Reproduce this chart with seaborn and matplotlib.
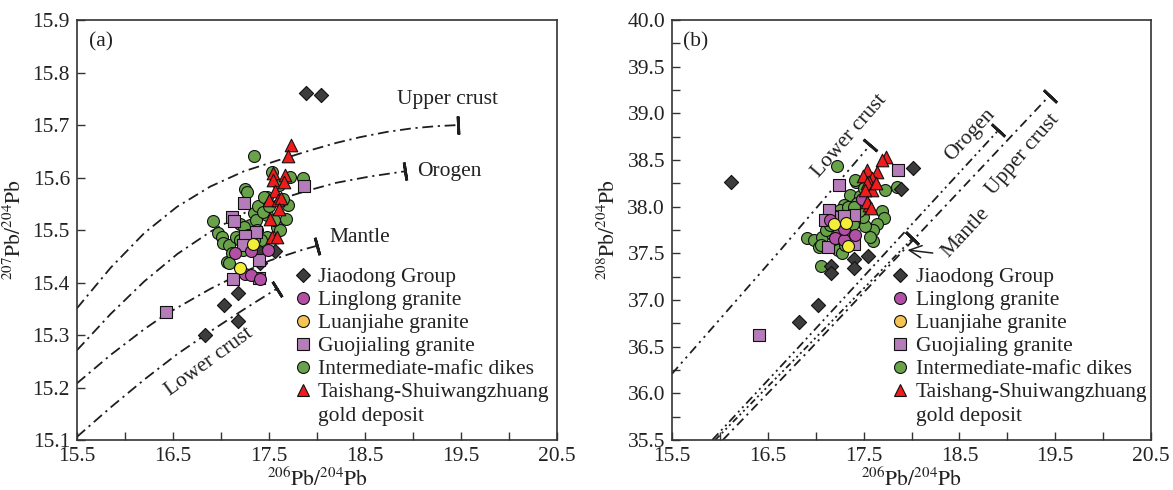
import numpy as np
import pandas as pd
import matplotlib
matplotlib.use("Agg")
import matplotlib.pyplot as plt
from matplotlib.lines import Line2D
import seaborn as sns

# ---------------- sample groups ----------------
groups = ["Jiaodong Group", "Linglong granite", "Luanjiahe granite",
          "Guojialing granite", "Intermediate-mafic dikes",
          "Taishang-Shuiwangzhuang gold deposit"]

# ---------------- (a) 206Pb/204Pb vs 207Pb/204Pb ----------------
jiaodong_a_x = [17.89, 18.04, 16.83, 17.03, 17.18, 17.18, 17.41, 17.41, 17.56]
jiaodong_a_y = [15.762, 15.758, 15.300, 15.357, 15.381, 15.327, 15.437, 15.458, 15.460]

linglong_a_x = [17.15, 17.31, 17.49, 17.25, 17.31, 17.41]
linglong_a_y = [15.457, 15.461, 15.462, 15.417, 15.415, 15.406]

luanjiahe_a_x = [17.33, 17.20]
luanjiahe_a_y = [15.473, 15.428]

guojialing_a_x = [16.43, 17.13, 17.40, 17.40, 17.24, 17.12, 17.14, 17.37, 17.25, 17.23, 17.86]
guojialing_a_y = [15.344, 15.406, 15.408, 15.443, 15.551, 15.524, 15.518, 15.497, 15.488, 15.471, 15.584]

dikes_a_x = [17.34, 17.53, 17.72, 17.85, 17.25, 17.27, 17.48, 17.70, 17.41, 17.34,
             17.48, 17.68, 16.92, 17.20, 17.30, 17.58, 17.62, 16.97, 17.01, 17.02,
             17.08, 17.48, 17.42, 17.34, 17.06, 17.11, 17.23, 17.16, 17.08, 17.39,
             17.45, 17.24, 17.20, 17.31, 17.36, 17.44, 17.55, 17.65, 17.38, 17.28,
             17.50, 17.60]
dikes_a_y = [15.641, 15.611, 15.602, 15.600, 15.579, 15.573, 15.563, 15.548, 15.544, 15.532,
             15.529, 15.522, 15.518, 15.511, 15.510, 15.506, 15.500, 15.494, 15.487, 15.475,
             15.471, 15.487, 15.481, 15.481, 15.440, 15.456, 15.462, 15.487, 15.437, 15.545,
             15.563, 15.506, 15.481, 15.468, 15.520, 15.535, 15.520, 15.560, 15.500, 15.490,
             15.545, 15.585]

taishang_a_x = [17.73, 17.70, 17.545, 17.545, 17.67, 17.66, 17.56, 17.50, 17.59, 17.63,
                17.60, 17.51, 17.535, 17.58]
taishang_a_y = [15.662, 15.642, 15.609, 15.596, 15.605, 15.592, 15.574, 15.557, 15.557, 15.562,
                15.541, 15.521, 15.487, 15.486]

# growth curves (a)
upper_crust_a_x = [15.50, 15.85, 16.20, 16.54, 16.89, 17.24, 17.58, 17.95, 18.20,
                   18.45, 18.73, 19.00, 19.25, 19.47]
upper_crust_a_y = [15.351, 15.428, 15.494, 15.544, 15.583, 15.612, 15.632, 15.653, 15.666,
                   15.677, 15.687, 15.694, 15.698, 15.700]
orogen_a_x = [15.50, 15.85, 16.20, 16.55, 16.90, 17.25, 17.60, 17.90, 18.20, 18.55, 18.92]
orogen_a_y = [15.271, 15.340, 15.402, 15.455, 15.498, 15.533, 15.558, 15.575, 15.590, 15.602, 15.612]
mantle_a_x = [15.50, 15.85, 16.20, 16.43, 16.89, 17.24, 17.51, 17.86, 18.00]
mantle_a_y = [15.208, 15.262, 15.311, 15.340, 15.388, 15.420, 15.442, 15.463, 15.470]
lower_crust_a_x = [15.50, 15.85, 16.20, 16.54, 16.89, 17.24, 17.58]
lower_crust_a_y = [15.106, 15.162, 15.215, 15.263, 15.307, 15.349, 15.388]

# ---------------- (b) 206Pb/204Pb vs 208Pb/204Pb ----------------
jiaodong_b_x = [16.12, 18.02, 17.89, 17.16, 17.16, 17.40, 17.40, 17.55, 17.02, 16.83]
jiaodong_b_y = [38.27, 38.42, 38.19, 37.37, 37.29, 37.44, 37.34, 37.47, 36.95, 36.76]

linglong_b_x = [17.15, 17.24, 17.20, 17.29, 17.41, 17.30, 17.48]
linglong_b_y = [37.86, 37.75, 37.67, 37.64, 37.70, 37.76, 38.08]

luanjiahe_b_x = [17.19, 17.32, 17.34]
luanjiahe_b_y = [37.81, 37.83, 37.58]

guojialing_b_x = [16.41, 17.24, 17.86, 17.14, 17.10, 17.26, 17.40, 17.13, 17.40, 17.29]
guojialing_b_y = [36.63, 38.23, 38.39, 37.96, 37.86, 37.89, 37.91, 37.57, 37.60, 37.90]

dikes_b_x = [17.22, 17.72, 17.85, 17.42, 17.36, 17.46, 17.69, 17.71, 17.64, 17.60,
             17.60, 17.51, 17.49, 17.29, 17.25, 16.91, 16.98, 17.07, 17.03, 17.06,
             17.23, 17.27, 17.17, 17.34, 17.39, 17.11, 17.32, 17.41, 17.43, 17.34,
             17.57, 17.05, 17.31, 17.15, 17.20, 17.30, 17.45, 17.38, 17.40, 17.50]
dikes_b_y = [38.44, 38.18, 38.21, 38.27, 38.13, 38.11, 37.95, 37.88, 37.81, 37.75,
             37.63, 37.79, 37.89, 38.02, 37.96, 37.66, 37.64, 37.68, 37.57, 37.36,
             37.54, 37.50, 37.71, 37.71, 37.82, 37.75, 37.89, 38.29, 38.04, 38.00,
             37.68, 37.59, 37.59, 37.80, 37.90, 37.80, 37.95, 37.60, 38.00, 38.20]

taishang_b_x = [17.73, 17.69, 17.54, 17.64, 17.49, 17.59, 17.56, 17.53, 17.59, 17.51,
                17.56, 17.53, 17.58, 17.63]
taishang_b_y = [38.53, 38.50, 38.39, 38.37, 38.33, 38.31, 38.27, 38.25, 38.18, 38.18,
                38.02, 38.05, 37.99, 38.25]

# growth curves (b)
lower_crust_b_x = [15.50, 16.61, 17.567]
lower_crust_b_y = [36.21, 37.51, 38.66]
orogen_b_x = [15.92, 16.79, 18.907]
orogen_b_y = [35.50, 36.46, 38.82]
mantle_b_x = [15.95, 16.87, 18.01]
mantle_b_y = [35.50, 36.46, 37.66]
upper_crust_b_x = [16.03, 16.93, 19.44]
upper_crust_b_y = [35.50, 36.46, 39.19]

# ---------------- style ----------------
sns.set_theme(style="ticks")
plt.rcParams["font.family"] = ["Liberation Serif", "DejaVu Serif"]
plt.rcParams["mathtext.fontset"] = "stix"
plt.rcParams["axes.edgecolor"] = "#333333"
plt.rcParams["text.color"] = "#222222"

FS = 15.5
ink = "#222222"

styles = {
    "Jiaodong Group": dict(marker="D", s=52, color="#3c3c3c", legend_color="#3c3c3c"),
    "Linglong granite": dict(marker="o", s=74, color="#B44FA6", legend_color="#B44FA6"),
    "Luanjiahe granite": dict(marker="o", s=74, color="#F2EE3A", legend_color="#F5C452"),
    "Guojialing granite": dict(marker="s", s=74, color="#B47CB8", legend_color="#B47CB8"),
    "Intermediate-mafic dikes": dict(marker="o", s=74, color="#68A34A", legend_color="#68A34A"),
    "Taishang-Shuiwangzhuang gold deposit": dict(marker="^", s=82, color="#EE1C1C", legend_color="#EE1C1C"),
}
draw_order = ["Intermediate-mafic dikes", "Jiaodong Group", "Guojialing granite",
              "Linglong granite", "Luanjiahe granite",
              "Taishang-Shuiwangzhuang gold deposit"]


def make_frame(pairs):
    rows = []
    for g, (xs, ys) in zip(groups, pairs):
        rows += [(g, x, y) for x, y in zip(xs, ys)]
    return pd.DataFrame(rows, columns=["group", "x", "y"])


df_a = make_frame([(jiaodong_a_x, jiaodong_a_y), (linglong_a_x, linglong_a_y),
                   (luanjiahe_a_x, luanjiahe_a_y), (guojialing_a_x, guojialing_a_y),
                   (dikes_a_x, dikes_a_y), (taishang_a_x, taishang_a_y)])
df_b = make_frame([(jiaodong_b_x, jiaodong_b_y), (linglong_b_x, linglong_b_y),
                   (luanjiahe_b_x, luanjiahe_b_y), (guojialing_b_x, guojialing_b_y),
                   (dikes_b_x, dikes_b_y), (taishang_b_x, taishang_b_y)])

fig = plt.figure(figsize=(11.73, 4.90), dpi=100)
fig.patch.set_facecolor("white")
ax_a = fig.add_axes([0.0656, 0.102, 0.4092, 0.857])
ax_b = fig.add_axes([0.5729, 0.102, 0.4084, 0.857])

xlab = r"$^{206}\mathrm{Pb}/^{204}\mathrm{Pb}$"


def setup_axes(ax, ylim, ymajor, yminor):
    ax.set_xlim(15.5, 20.5)
    ax.set_ylim(*ylim)
    ax.set_xticks(np.arange(15.5, 20.51, 1.0))
    ax.set_xticks(np.arange(16.0, 20.01, 1.0), minor=True)
    ax.set_xticklabels([f"{v:.1f}" for v in np.arange(15.5, 20.51, 1.0)])
    ax.set_yticks(ymajor)
    ax.set_yticks(yminor, minor=True)
    ax.set_yticklabels([f"{v:.1f}" for v in ymajor])
    ax.tick_params(which="both", direction="in", length=6, width=1.0,
                   colors="#333333", labelcolor=ink, labelsize=FS, pad=5,
                   top=False, right=False)
    for sp in ax.spines.values():
        sp.set_linewidth(1.2)
        sp.set_color("#333333")
    ax.set_facecolor("white")


setup_axes(ax_a, (15.1, 15.9), np.round(np.arange(15.1, 15.91, 0.1), 1), [])
setup_axes(ax_b, (35.5, 40.0), np.arange(35.5, 40.01, 0.5), np.arange(35.75, 40.0, 0.5))


def draw_curve(ax, xs, ys, dashes):
    ax.plot(xs, ys, color="#1e1e1e", lw=1.3, linestyle=(0, dashes), zorder=1,
            dash_capstyle="butt", dash_joinstyle="round")
    # closing bar at the present-day end, perpendicular to the curve
    p = ax.transData.transform(np.column_stack([xs[-2:], ys[-2:]]))
    ang = np.degrees(np.arctan2(p[1, 1] - p[0, 1], p[1, 0] - p[0, 0]))
    ax.plot([xs[-1]], [ys[-1]], marker=(2, 2, ang), markersize=13, mew=2.0,
            color="#1e1e1e", linestyle="none", zorder=1)


dash_dot = (6, 2.6, 1.2, 2.6)
draw_curve(ax_a, upper_crust_a_x, upper_crust_a_y, dash_dot)
draw_curve(ax_a, orogen_a_x, orogen_a_y, dash_dot)
draw_curve(ax_a, mantle_a_x, mantle_a_y, dash_dot)
draw_curve(ax_a, lower_crust_a_x, lower_crust_a_y, dash_dot)

draw_curve(ax_b, lower_crust_b_x, lower_crust_b_y, (5, 2.6, 1.2, 2.6, 1.2, 2.6))
draw_curve(ax_b, orogen_b_x, orogen_b_y, (5, 2.2, 1.1, 2.2, 1.1, 2.2))
draw_curve(ax_b, mantle_b_x, mantle_b_y, (3.5, 1.8, 1.1, 1.8, 1.1, 1.8, 1.1, 1.8))
draw_curve(ax_b, upper_crust_b_x, upper_crust_b_y, (5, 2.6, 1.2, 2.6))


def draw_points(ax, df):
    for z, g in enumerate(draw_order):
        st = styles[g]
        sns.scatterplot(data=df[df["group"] == g], x="x", y="y", ax=ax,
                        marker=st["marker"], s=st["s"], color=st["color"],
                        edgecolor="#111111", linewidth=0.8, legend=False,
                        zorder=3 + z)


draw_points(ax_a, df_a)
draw_points(ax_b, df_b)
for ax, yl in ((ax_a, r"$^{207}\mathrm{Pb}/^{204}\mathrm{Pb}$"),
               (ax_b, r"$^{208}\mathrm{Pb}/^{204}\mathrm{Pb}$")):
    ax.set_xlabel(xlab, fontsize=FS, color=ink, labelpad=1)
    ax.set_ylabel(yl, fontsize=FS, color=ink, labelpad=5)

# curve names
ax_a.text(18.83, 15.748, "Upper crust", fontsize=FS, ha="left", va="center")
ax_a.text(19.04, 15.612, "Orogen", fontsize=FS, ha="left", va="center")
ax_a.text(18.13, 15.485, "Mantle", fontsize=FS, ha="left", va="center")
ax_a.text(16.88, 15.249, "Lower crust", fontsize=FS, ha="center", va="center", rotation=36)

ax_b.text(17.35, 38.76, "Lower crust", fontsize=FS, ha="center", va="center", rotation=49)
ax_b.text(18.61, 38.77, "Orogen", fontsize=FS, ha="center", va="center", rotation=47)
ax_b.text(19.16, 38.56, "Upper crust", fontsize=FS, ha="center", va="center", rotation=49)
ax_b.text(18.57, 37.72, "Mantle", fontsize=FS, ha="center", va="center", rotation=47)
ax_b.annotate("", xy=(17.93, 37.54), xytext=(18.25, 37.50),
              arrowprops=dict(arrowstyle="->", lw=1.1, color="#1e1e1e", mutation_scale=22))

ax_a.text(0.05, 0.948, "(a)", transform=ax_a.transAxes, fontsize=FS, ha="center", va="center")
ax_b.text(0.05, 0.948, "(b)", transform=ax_b.transAxes, fontsize=FS, ha="center", va="center")


# legends
def legend_handles():
    hs, labels = [], []
    for g in groups:
        st = styles[g]
        msize = np.sqrt(st["s"])
        hs.append(Line2D([], [], linestyle="none", marker=st["marker"], markersize=msize,
                         markerfacecolor=st["legend_color"], markeredgecolor="#111111",
                         markeredgewidth=0.8))
        labels.append("Taishang-Shuiwangzhuang" if g.startswith("Taishang") else g)
    hs.append(Line2D([], [], linestyle="none"))
    labels.append("gold deposit")
    return hs, labels


for ax, x0 in ((ax_a, 0.4475), (ax_b, 0.454)):
    hs, labels = legend_handles()
    ax.legend(hs, labels, loc="upper left", bbox_to_anchor=(x0, 0.412),
              frameon=False, fontsize=FS, handlelength=1.0, handletextpad=0.22,
              labelspacing=0.14, borderpad=0, borderaxespad=0)

fig.savefig("out.png", dpi=100, facecolor="white")
